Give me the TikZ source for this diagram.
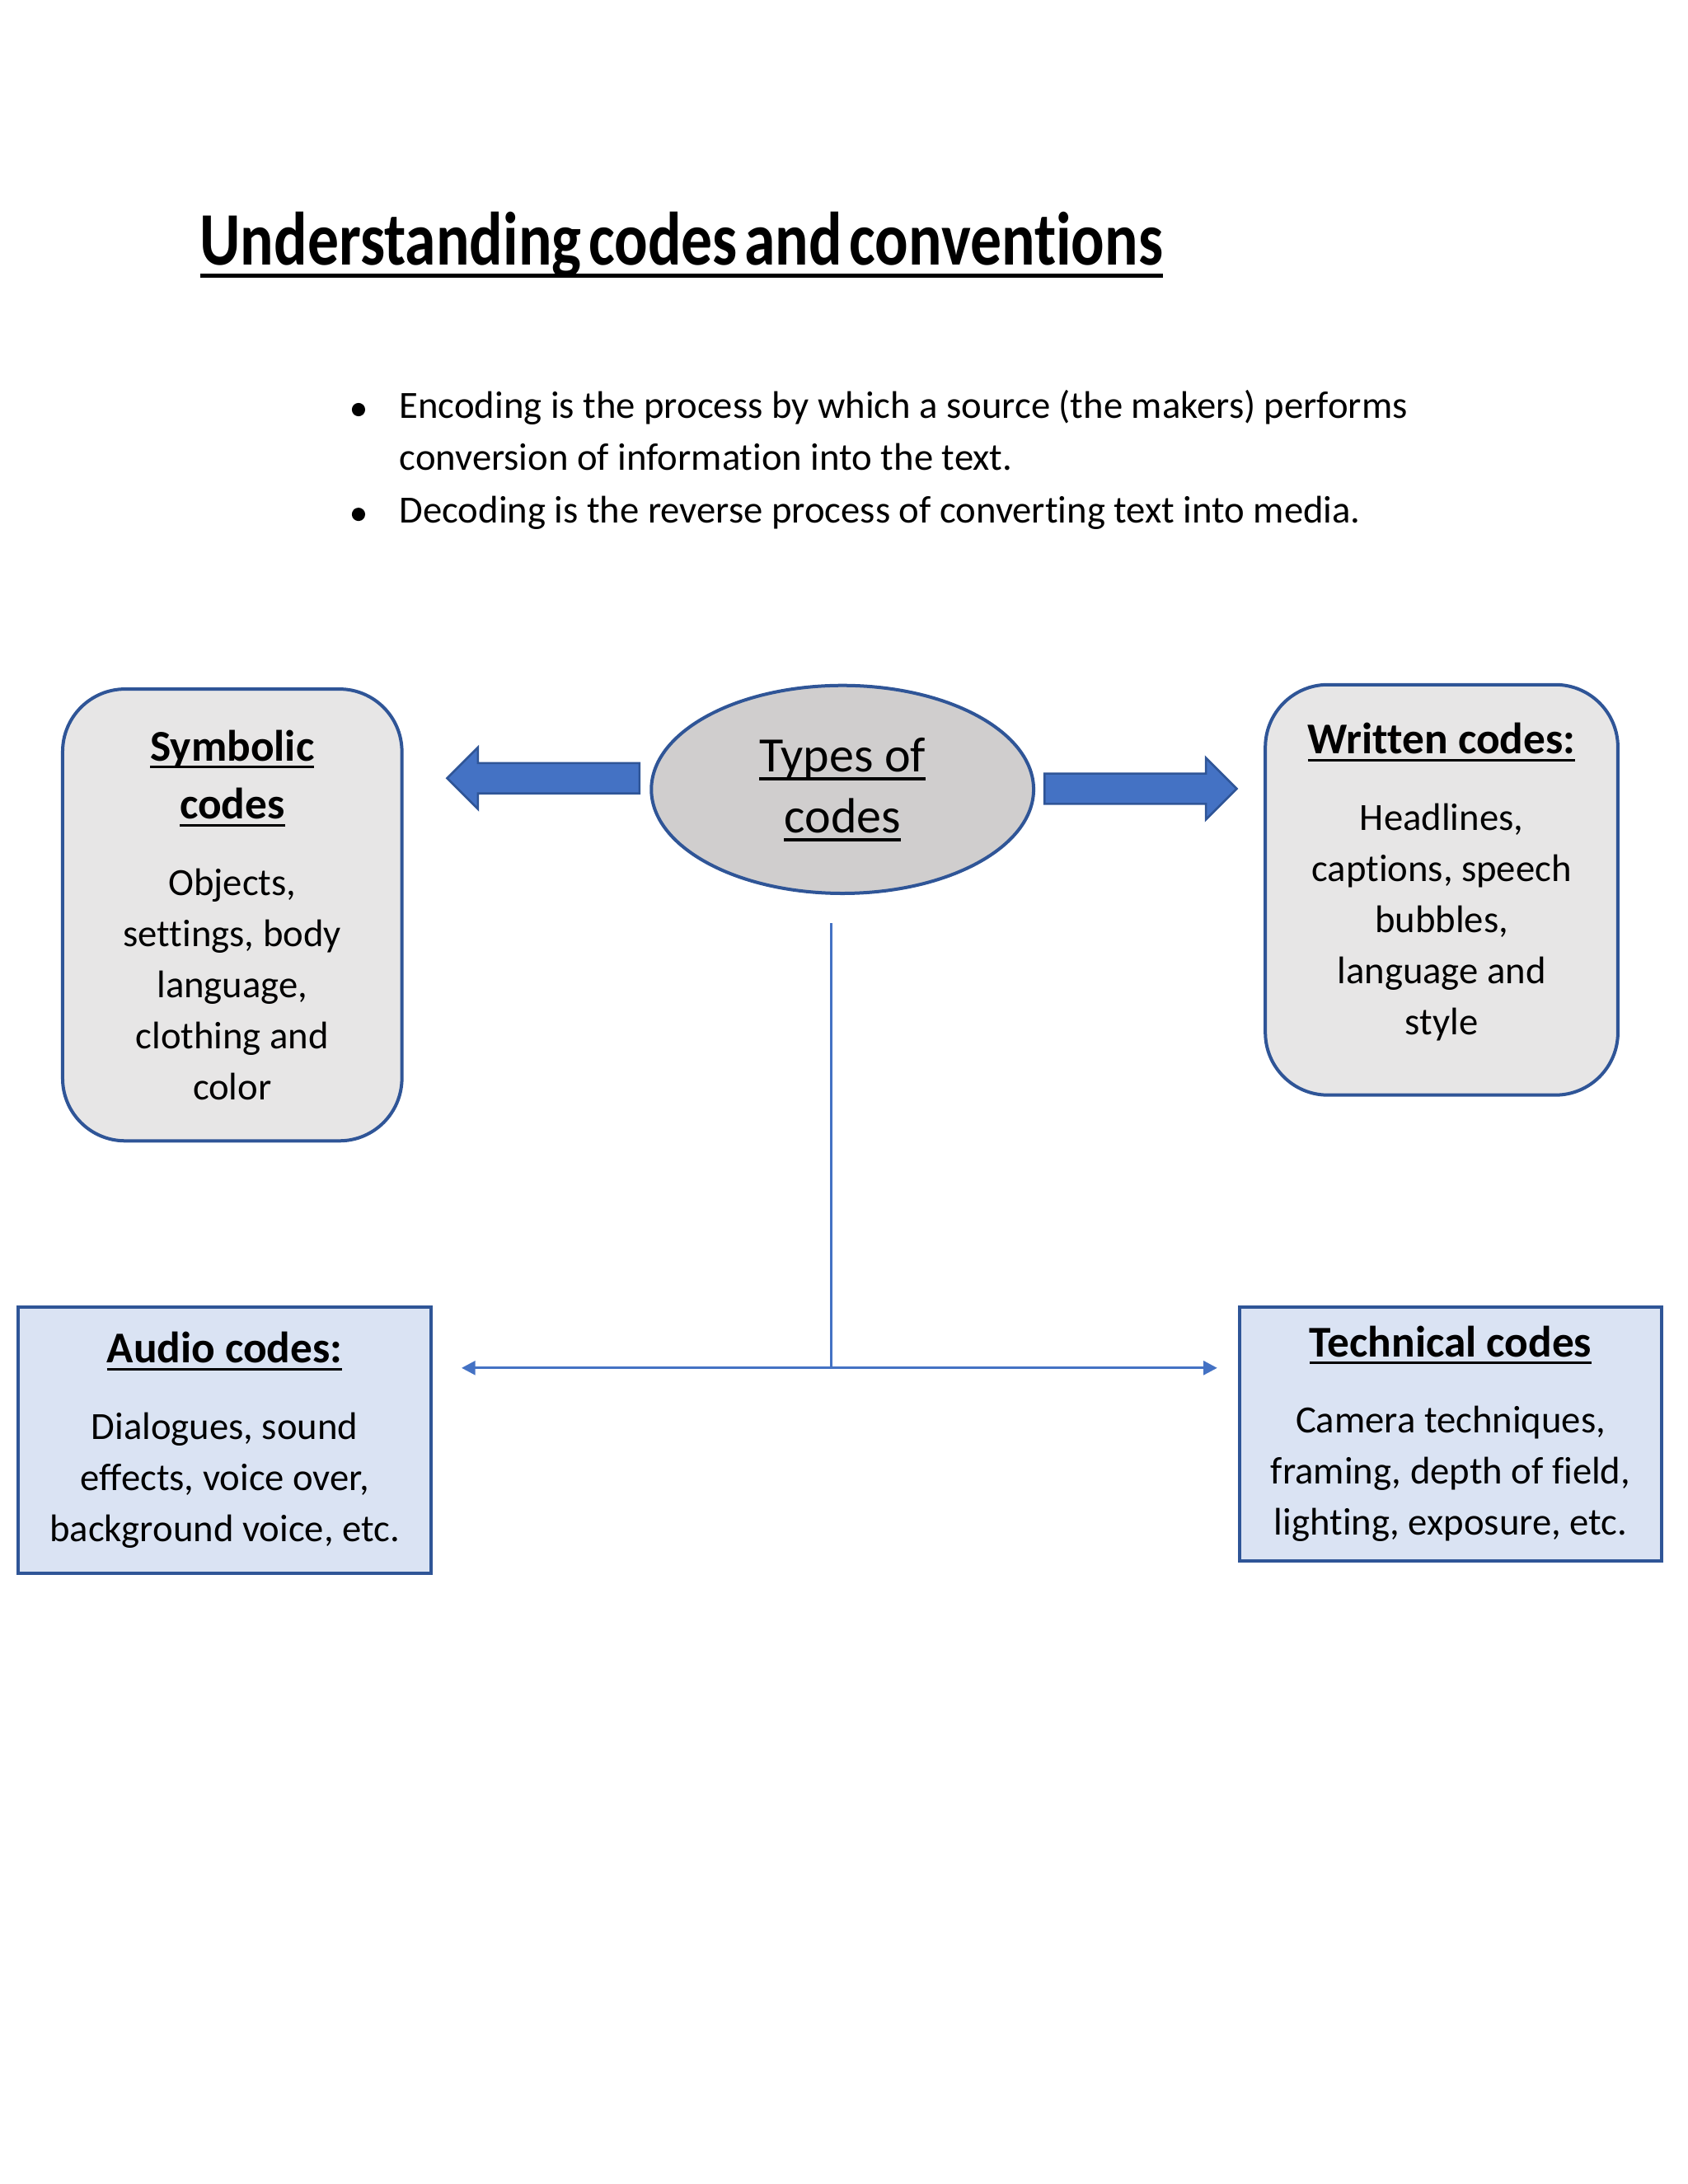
\documentclass[tikz,border=0pt]{standalone}
\usepackage{fontspec}
\setmainfont{Carlito}[Ligatures=NoCommon]
\newfontfamily\titlefont[FakeStretch=0.825,WordSpace=0.5,Ligatures=NoCommon]{Carlito}
\usepackage{tikz}
\usetikzlibrary{arrows.meta,shapes.geometric,shapes.arrows}

\definecolor{edgeblue}{HTML}{2F5597}
\definecolor{fillblue}{HTML}{4472C4}
\definecolor{boxgray}{HTML}{E7E6E6}
\definecolor{ovalgray}{HTML}{D0CECE}
\definecolor{paleblue}{HTML}{DAE3F3}

\newsavebox{\ulbox}
\newcommand{\ulined}[1]{\sbox\ulbox{#1}\rlap{\rule[-0.17em]{\wd\ulbox}{0.06em}}\usebox\ulbox}
\newcommand{\hdr}{\fontsize{16}{21.2}\selectfont\bfseries}

\tikzset{
  codebox/.style={draw=edgeblue,line width=1.2pt,rounded corners=0.8cm,fill=boxgray,
    align=center,inner sep=0pt,font=\fontsize{14}{18.6}\selectfont},
  mediabox/.style={draw=edgeblue,line width=1.2pt,fill=paleblue,
    align=center,inner sep=0pt,font=\fontsize{14}{18.6}\selectfont},
  blockarrow/.style={single arrow,draw=edgeblue,fill=fillblue,line width=0.8pt,inner sep=0pt,
    text height=0.36cm,text depth=0pt,single arrow head extend=0.2cm,minimum height=2.46cm},
  note/.style={anchor=base west,inner sep=0pt,font=\fontsize{14}{18.7}\selectfont},
  link/.style={draw=fillblue,line width=1pt,>={Triangle[length=5pt,width=5pt]}}
}

\begin{document}
\begin{tikzpicture}
    \useasboundingbox (0,0) rectangle (21.59,-27.94);

    \node[anchor=base west,inner sep=0pt,font=\titlefont\bfseries\fontsize{27.5}{33}\selectfont] (title) at (2.55,-3.39) {\ulined{Understanding codes and conventions}};

    % notes under the title
    \fill (4.586,-5.24) circle (0.085cm);
    \fill (4.586,-6.58) circle (0.085cm);
    \node[note] (lineone) at (5.103,-5.353) {Encoding is the process by which a source (the makers) performs};
    \node[note] (linetwo) at (5.103,-6.013) {conversion of information into the text.};
    \node[note] (linethree) at (5.103,-6.691) {Decoding is the reverse process of converting text into media.};

    \node[ellipse,draw=edgeblue,line width=1.2pt,fill=ovalgray,minimum width=4.89cm,minimum height=2.66cm,
      align=center,inner sep=0pt,font=\fontsize{18}{22.2}\selectfont] (types) at (10.777,-10.099) {\ulined{Types of}\\\ulined{codes}};

    \node[codebox,minimum width=4.34cm,minimum height=5.78cm] (symbolic) at (2.971,-11.705)
      {{\hdr\ulined{Symbolic}}\\[2.6pt]{\hdr\ulined{codes}}\\[9.2pt]Objects,\\settings, body\\language,\\clothing and\\color};
    \node[codebox,minimum width=4.51cm,minimum height=5.25cm] (written) at (18.441,-11.384)
      {{\hdr\ulined{Written codes:}}\\[9.2pt]Headlines,\\captions, speech\\bubbles,\\language and\\style\rule[-0.28cm]{0pt}{0pt}};

    \node[blockarrow,shape border rotate=180,anchor=tip] (tosymbolic) at (5.70,-9.956) {};
    \node[blockarrow,anchor=tip] (towritten) at (15.84,-10.09) {};

    \node[mediabox,minimum width=5.28cm,minimum height=3.41cm] (audio) at (2.873,-18.423)
      {{\hdr\ulined{Audio codes:}}\\[9.2pt]Dialogues, sound\\effects, voice over,\\background voice, etc.};
    \node[mediabox,minimum width=5.39cm,minimum height=3.25cm] (technical) at (18.557,-18.343)
      {{\hdr\ulined{Technical codes}}\\[9.2pt]Camera techniques,\\framing, depth of field,\\lighting, exposure, etc.};

    \coordinate (stem) at (10.63,-11.81);
    \coordinate (fork) at (10.63,-17.50);
    \draw[link] (stem) -- (fork);
    \draw[link,<->,shorten <=0.37cm,shorten >=0.27cm] (audio.east |- fork) -- (technical.west |- fork);
\end{tikzpicture}
\end{document}
